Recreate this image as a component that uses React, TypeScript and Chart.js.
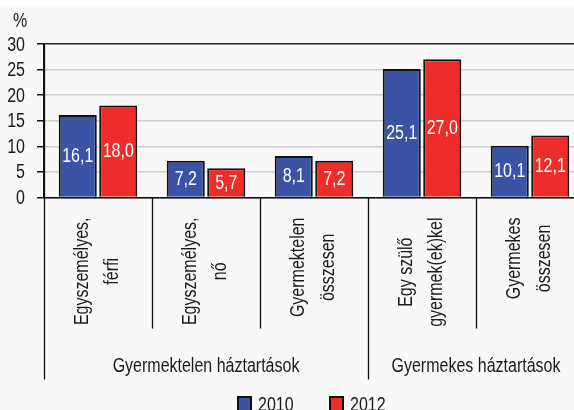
import React, { useEffect, useRef } from "react";
import { Chart, registerables } from "chart.js";

Chart.register(...registerables);

const categories: string[][] = [
  ["Egyszemélyes,", "férfi"],
  ["Egyszemélyes,", "nő"],
  ["Gyermektelen", "összesen"],
  ["Egy szülő", "gyermek(ek)kel"],
  ["Gyermekes", "összesen"],
];
const groups = ["Gyermektelen háztartások", "Gyermekes háztartások"];
const groupSpans = [3, 2];
const series2010 = [16.1, 7.2, 8.1, 25.1, 10.1];
const series2012 = [18.0, 5.7, 7.2, 27.0, 12.1];
const seriesNames = ["2010", "2012"];
const yTicks = [0, 5, 10, 15, 20, 25, 30];
const yUnit = "%";

const BLUE = "#3A53A4";
const RED = "#EE2D2B";
const FONT = '"Liberation Sans", Arial, sans-serif';
const FSIZE = 20;
const SX = 0.8; // horizontal condensation of text
const TEXT = "#1a1a1a";

function drawText(
  ctx: CanvasRenderingContext2D,
  text: string,
  x: number,
  y: number,
  align: CanvasTextAlign,
  baseline: CanvasTextBaseline,
  color: string,
  rotate = false
) {
  ctx.save();
  ctx.font = `${FSIZE}px ${FONT}`;
  ctx.fillStyle = color;
  ctx.textAlign = align;
  ctx.textBaseline = baseline;
  ctx.translate(x, y);
  if (rotate) ctx.rotate(-Math.PI / 2);
  ctx.scale(SX, 1);
  ctx.fillText(text, 0, 0);
  ctx.restore();
}

function textWidth(ctx: CanvasRenderingContext2D, text: string) {
  ctx.save();
  ctx.font = `${FSIZE}px ${FONT}`;
  const w = ctx.measureText(text).width * SX;
  ctx.restore();
  return w;
}

const overlayPlugin = {
  id: "overlay",
  afterDatasetsDraw(chart: any) {
    const ctx = chart.ctx;
    chart.data.datasets.forEach((ds: any, di: number) => {
      const meta = chart.getDatasetMeta(di);
      meta.data.forEach((bar: any, i: number) => {
        const v = ds.data[i];
        const txt = v.toFixed(1).replace(".", ",");
        drawText(ctx, txt, bar.x, (bar.y + bar.base) / 2 + 0.5, "center", "middle", "#ffffff");
      });
    });
  },
  afterDraw(chart: any) {
    const ctx: CanvasRenderingContext2D = chart.ctx;
    const area = chart.chartArea;
    const xs = chart.scales.x;
    const ys = chart.scales.y;
    const n = categories.length;
    const w = (area.right - area.left) / n;
    const bottom = area.bottom;

    drawText(ctx, yUnit, 20, 21, "center", "middle", TEXT);

    yTicks.forEach((v) => {
      drawText(ctx, String(v), 25, ys.getPixelForValue(v) + 1, "right", "middle", TEXT);
    });

    ctx.save();
    ctx.strokeStyle = "#111";
    ctx.lineWidth = 1.3;
    const groupBounds = new Set<number>([0]);
    let acc = 0;
    groupSpans.forEach((s) => {
      acc += s;
      groupBounds.add(acc);
    });
    for (let i = 0; i <= n; i++) {
      const x = Math.round(area.left + i * w) + 0.5;
      const yEnd = groupBounds.has(i) ? bottom + 182 : bottom + 131;
      ctx.beginPath();
      ctx.moveTo(x, i === 0 ? area.top : bottom);
      ctx.lineTo(x, yEnd);
      ctx.stroke();
    }
    ctx.restore();

    categories.forEach((lines, i) => {
      const cx = xs.getPixelForValue(i);
      const maxW = Math.max(...lines.map((l) => textWidth(ctx, l)));
      const cy = bottom + 20 + maxW / 2;
      const spacing = 30.5;
      lines.forEach((l, li) => {
        const bx = cx + 5 + (li - (lines.length - 1) / 2) * spacing;
        drawText(ctx, l, bx, cy, "center", "alphabetic", TEXT, true);
      });
    });

    let start = 0;
    groups.forEach((g, gi) => {
      const span = groupSpans[gi];
      const x0 = area.left + start * w;
      const x1 = area.left + (start + span) * w;
      drawText(ctx, g, (x0 + x1) / 2, bottom + 174.5, "center", "alphabetic", TEXT);
      start += span;
    });

    const legend = [
      { label: seriesNames[0], color: BLUE, x: 238 },
      { label: seriesNames[1], color: RED, x: 330 },
    ];
    legend.forEach((it) => {
      ctx.save();
      ctx.fillStyle = it.color;
      ctx.fillRect(it.x, 397, 13, 14);
      ctx.strokeStyle = "#111";
      ctx.lineWidth = 2;
      ctx.strokeRect(it.x, 397, 13, 14);
      ctx.restore();
      drawText(ctx, it.label, it.x + 20, 411, "left", "alphabetic", TEXT);
    });
  },
};

export default function App() {
  const ref = useRef<HTMLCanvasElement | null>(null);
  useEffect(() => {
    if (!ref.current) return;
    const chart = new Chart(ref.current, {
      type: "bar",
      data: {
        labels: categories.map((c) => c.join(" ")),
        datasets: [
          {
            label: seriesNames[0],
            data: series2010,
            backgroundColor: BLUE,
            borderColor: "#111",
            borderWidth: 2,
            categoryPercentage: 0.75,
            barPercentage: 0.94,
          },
          {
            label: seriesNames[1],
            data: series2012,
            backgroundColor: RED,
            borderColor: "#111",
            borderWidth: 2,
            categoryPercentage: 0.75,
            barPercentage: 0.94,
          },
        ],
      },
      options: {
        responsive: false,
        animation: false,
        layout: { padding: { top: 44, right: 16, left: 0, bottom: 0 } },
        plugins: {
          legend: { display: false },
          tooltip: { enabled: false },
        },
        scales: {
          x: {
            grid: { display: false },
            border: { display: true, color: "#111", width: 1.3 },
            ticks: { display: false },
            afterFit: (s: any) => {
              s.height = 214.5;
            },
          },
          y: {
            min: 0,
            max: 30,
            afterBuildTicks: (s: any) => {
              s.ticks = yTicks.map((v) => ({ value: v }));
            },
            afterFit: (s: any) => {
              s.width = 44;
            },
            grid: {
              color: (c: any) =>
                c.tick && (c.tick.value === 30 || c.tick.value === 0)
                  ? "#222"
                  : "#cfcfcf",
              lineWidth: 1.5,
              tickColor: "#111",
              tickLength: 7,
            },
            border: { display: true, color: "#111", width: 1.3 },
            ticks: { display: false },
          },
        },
      },
      plugins: [overlayPlugin],
    });
    return () => chart.destroy();
  }, []);

  return (
    <div
      style={{
        position: "fixed",
        left: 0,
        top: 0,
        width: 574,
        height: 410,
        overflow: "hidden",
        background: "#ffffff",
      }}
    >
      <div
        style={{
          position: "absolute",
          left: 0,
          top: 6,
          width: 574,
          height: 404,
          background: "#F9F7F7",
        }}
      />
      <canvas
        ref={ref}
        width={600}
        height={412}
        style={{ position: "absolute", left: 0, top: 0, display: "block" }}
      />
    </div>
  );
}
